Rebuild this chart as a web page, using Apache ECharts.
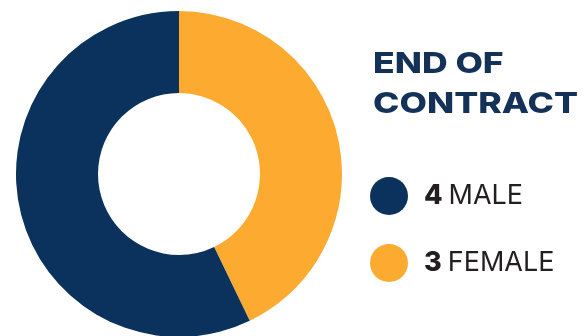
<!DOCTYPE html>
<html>
<head>
<meta charset="utf-8">
<script src="https://cdn.jsdelivr.net/npm/echarts@6/dist/echarts.min.js"></script>
<style>
  html, body { margin: 0; padding: 0; background: #ffffff; }
  #chart { width: 586px; height: 336px; }
</style>
</head>
<body>
<div id="chart"></div>
<script>
// Contract endings split by gender
const titleLines = ['END OF', 'CONTRACT'];
const categories = ['FEMALE', 'MALE'];
const values = [3, 4];
const colors = ['#fcaa30', '#0a325c'];
const legendOrder = ['MALE', 'FEMALE'];

const chart = echarts.init(document.getElementById('chart'), null, { renderer: 'canvas' });

const valueByName = {};
categories.forEach((c, i) => { valueByName[c] = values[i]; });

// Heading is set in a wide geometric style: stretch the bold face horizontally
const titleFont = '800 29px Inter';
const titleWidth = 205;
const measureCtx = document.createElement('canvas').getContext('2d');
measureCtx.font = titleFont;
const longest = titleLines.reduce((a, b) => (measureCtx.measureText(b).width > measureCtx.measureText(a).width ? b : a));
const titleScale = titleWidth / measureCtx.measureText(longest).width;

chart.setOption({
  animation: false,
  color: colors,
  graphic: [{
    type: 'text',
    x: 373,
    y: 44,
    scaleX: titleScale,
    silent: true,
    style: {
      text: titleLines.join('\n'),
      font: titleFont,
      lineHeight: 40,
      fill: '#143258',
      textVerticalAlign: 'top'
    }
  }],
  legend: {
    orient: 'vertical',
    left: 370,
    top: 177,
    padding: 0,
    itemWidth: 38,
    itemHeight: 38,
    itemGap: 29,
    icon: 'circle',
    selectedMode: false,
    data: legendOrder,
    formatter: name => `{v|${valueByName[name]}}{n|${name}}`,
    textStyle: {
      rich: {
        v: { fontFamily: 'Inter', fontWeight: 800, fontSize: 27, color: '#231f20', padding: [0, 0, 0, 11] },
        n: { fontFamily: 'Inter', fontWeight: 400, fontSize: 27, color: '#231f20', padding: [0, 0, 0, 6] }
      }
    }
  },
  series: [{
    type: 'pie',
    center: [179, 174],
    radius: [81, 163],
    startAngle: 90,
    clockwise: true,
    label: { show: false },
    labelLine: { show: false },
    emphasis: { disabled: true },
    itemStyle: { borderWidth: 0 },
    data: categories.map((c, i) => ({ name: c, value: values[i] }))
  }]
});
</script>
</body>
</html>
